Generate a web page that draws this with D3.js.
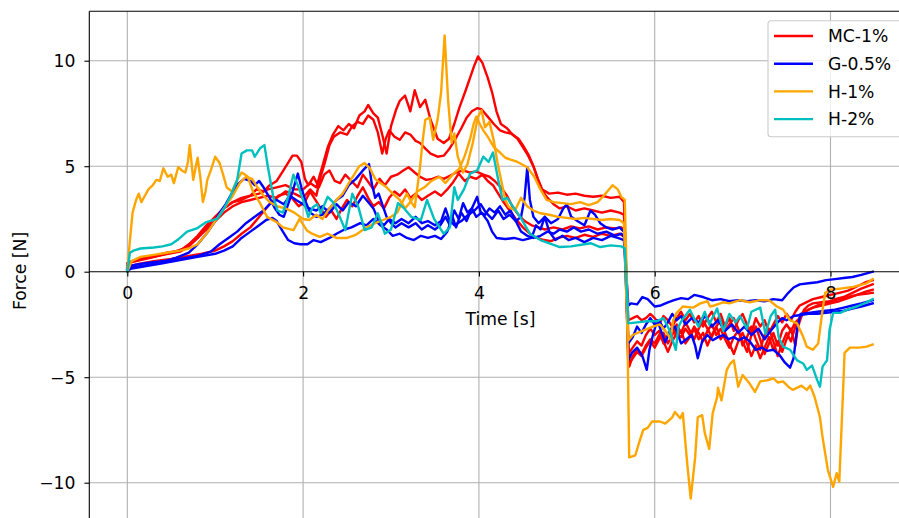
<!DOCTYPE html>
<html><head><meta charset="utf-8">
<script src="https://cdn.jsdelivr.net/npm/d3@7"></script>
<style>body{margin:0;background:#fff}svg{display:block;font-family:"DejaVu Sans",sans-serif}</style>
</head><body><svg id="c" width="899" height="518"></svg>
<script>
// ---------- DATA: [time (s), force (N)] ----------
const seriesNames = ["MC-1%", "G-0.5%", "H-1%", "H-2%"];
const seriesColors = ["#ff0000", "#0000ff", "#ffa500", "#00bfbf"];
const xTicks = [0, 2, 4, 6, 8];
const yTicks = [10, 5, 0, -5, -10];

const mc1_a = [[0,0.3],[0.05,0.5],[0.15,0.6],[0.3,0.75],[0.45,0.9],[0.6,1.0],[0.7,1.3],[0.8,1.7],[0.9,2.2],[1.0,2.6],[1.1,3.0],[1.2,3.3],[1.3,3.4],[1.4,3.6],[1.5,3.7],[1.6,3.9],[1.7,4.0],[1.8,4.1],[1.9,3.9],[2.0,3.9],[2.08,4.2],[2.15,4.0],[2.22,5.0],[2.28,5.9],[2.34,6.5],[2.4,6.9],[2.46,6.7],[2.52,7.0],[2.58,6.8],[2.64,7.4],[2.7,7.6],[2.74,7.9],[2.8,7.5],[2.85,7.3],[2.9,6.5],[2.95,5.6],[3.0,6.9],[3.06,7.7],[3.1,8.1],[3.16,8.35],[3.22,7.6],[3.27,8.6],[3.33,7.8],[3.39,8.15],[3.45,7.2],[3.53,6.3],[3.6,6.1],[3.66,6.3],[3.72,7.0],[3.78,7.8],[3.85,8.6],[3.9,9.2],[3.95,9.8],[3.99,10.2],[4.04,9.9],[4.1,9.2],[4.15,8.5],[4.2,7.6],[4.25,7.0],[4.32,6.8],[4.38,6.5],[4.45,6.3],[4.5,6.0],[4.57,5.5],[4.62,5.0],[4.67,4.4],[4.72,3.9],[4.8,3.7],[4.9,3.75],[5.0,3.65],[5.1,3.7],[5.2,3.6],[5.3,3.55],[5.4,3.6],[5.5,3.5],[5.6,3.55],[5.65,3.3],
[5.71,-4.5],[5.75,-4.0],[5.8,-3.7],[5.85,-3.9],[5.9,-3.5],[5.95,-3.2],[6.0,-3.4],[6.05,-3.0],[6.1,-3.3],[6.15,-3.8],[6.2,-3.3],[6.25,-2.9],[6.3,-3.1],[6.35,-2.7],[6.4,-3.0],[6.45,-2.6],[6.5,-2.9],[6.55,-3.3],[6.6,-2.8],[6.65,-2.5],[6.7,-3.0],[6.75,-2.7],[6.8,-3.2],[6.85,-3.6],[6.9,-3.1],[6.95,-2.8],[7.0,-3.3],[7.05,-3.8],[7.1,-3.0],[7.15,-2.6],[7.2,-3.2],[7.25,-3.9],[7.3,-3.4],[7.35,-2.9],[7.4,-3.5],[7.45,-2.8],[7.5,-2.5],[7.55,-2.8],[7.6,-2.4],[7.65,-2.2],[7.7,-1.8],[7.75,-1.6],[7.8,-1.5],[7.9,-1.45],[8.0,-1.4],[8.1,-1.3],[8.2,-1.2],[8.3,-1.1],[8.4,-1.05],[8.48,-1.0]];

const mc1_b = [[0,0.2],[0.05,0.45],[0.2,0.6],[0.4,0.8],[0.6,0.95],[0.7,1.2],[0.8,1.6],[0.9,2.0],[1.0,2.4],[1.1,2.8],[1.2,3.1],[1.3,3.3],[1.4,3.4],[1.5,3.5],[1.6,3.6],[1.7,3.5],[1.8,3.8],[1.9,3.7],[2.0,3.5],[2.08,3.9],[2.15,3.6],[2.2,4.5],[2.25,5.2],[2.3,6.0],[2.35,6.4],[2.42,6.6],[2.5,6.5],[2.56,6.9],[2.62,7.1],[2.68,7.0],[2.74,7.4],[2.8,7.2],[2.85,6.6],[2.9,5.6],[2.94,6.3],[2.98,6.7],[3.04,6.4],[3.1,6.25],[3.16,6.6],[3.22,6.5],[3.28,6.2],[3.33,6.1],[3.4,5.8],[3.45,5.6],[3.53,5.45],[3.6,5.5],[3.66,5.8],[3.72,6.2],[3.8,6.8],[3.86,7.3],[3.92,7.6],[3.98,7.75],[4.03,7.7],[4.1,7.35],[4.17,7.0],[4.24,6.7],[4.3,6.6],[4.37,6.55],[4.44,6.3],[4.5,5.9],[4.56,5.5],[4.62,5.0],[4.67,4.4],[4.72,3.85],[4.78,3.5],[4.85,3.2],[4.92,3.0],[5.0,3.1],[5.1,2.9],[5.2,3.0],[5.3,2.9],[5.4,2.8],[5.5,2.9],[5.6,2.8],[5.65,2.7],
[5.7,-2.3],[5.75,-2.2],[5.8,-2.1],[5.85,-2.3],[5.9,-2.2],[5.95,-2.0],[6.0,-2.2],[6.05,-2.5],[6.1,-2.1],[6.15,-2.3],[6.2,-2.6],[6.25,-2.2],[6.3,-1.9],[6.35,-2.3],[6.4,-2.0],[6.45,-2.4],[6.5,-2.1],[6.55,-2.6],[6.6,-2.2],[6.65,-1.9],[6.7,-2.4],[6.75,-2.0],[6.8,-2.6],[6.85,-2.2],[6.9,-2.8],[6.95,-2.3],[7.0,-2.0],[7.05,-2.5],[7.1,-2.9],[7.15,-2.2],[7.2,-2.6],[7.25,-2.3],[7.3,-2.9],[7.35,-2.5],[7.4,-2.1],[7.45,-2.4],[7.5,-2.0],[7.55,-2.3],[7.6,-1.9],[7.65,-1.6],[7.7,-1.5],[7.8,-1.3],[7.9,-1.2],[8.0,-1.1],[8.1,-1.0],[8.2,-0.9],[8.3,-0.7],[8.4,-0.5],[8.48,-0.4]];

const mc1_c = [[0,0.4],[0.1,0.55],[0.3,0.7],[0.5,0.9],[0.65,1.1],[0.8,1.6],[0.9,2.1],[1.0,2.6],[1.1,3.0],[1.2,3.3],[1.3,3.5],[1.4,3.6],[1.47,3.9],[1.55,3.8],[1.62,4.1],[1.7,4.3],[1.76,4.7],[1.82,5.1],[1.88,5.5],[1.93,5.5],[1.98,5.2],[2.02,4.4],[2.06,4.1],[2.12,4.5],[2.18,4.0],[2.24,4.6],[2.3,4.8],[2.36,4.3],[2.42,4.2],[2.48,4.6],[2.55,4.3],[2.62,4.0],[2.68,4.6],[2.75,4.2],[2.8,3.9],[2.87,4.4],[2.93,4.1],[3.0,4.5],[3.07,4.6],[3.14,4.8],[3.2,4.95],[3.27,4.7],[3.33,4.5],[3.4,4.35],[3.47,4.4],[3.54,4.5],[3.6,4.4],[3.67,4.55],[3.74,4.7],[3.82,4.8],[3.9,4.7],[3.97,4.75],[4.05,4.6],[4.12,4.5],[4.18,4.3],[4.25,4.0],[4.32,3.6],[4.38,3.1],[4.45,2.7],[4.52,2.4],[4.6,2.2],[4.68,2.1],[4.75,2.0],[4.85,2.1],[4.95,2.0],[5.05,2.15],[5.15,2.05],[5.25,2.15],[5.35,2.0],[5.45,2.1],[5.55,2.05],[5.62,2.1],[5.66,1.95],
[5.7,-3.9],[5.75,-3.6],[5.8,-3.3],[5.85,-3.5],[5.9,-3.0],[5.95,-2.7],[6.0,-3.0],[6.05,-2.8],[6.1,-3.4],[6.15,-3.0],[6.2,-2.6],[6.25,-3.1],[6.3,-2.8],[6.35,-3.4],[6.4,-3.1],[6.45,-2.7],[6.5,-3.2],[6.55,-2.9],[6.6,-3.5],[6.65,-3.0],[6.7,-2.6],[6.75,-3.2],[6.8,-2.9],[6.85,-3.4],[6.9,-3.9],[6.95,-3.3],[7.0,-2.9],[7.05,-3.4],[7.1,-4.0],[7.15,-3.5],[7.2,-4.1],[7.25,-3.6],[7.3,-3.1],[7.35,-3.7],[7.4,-3.3],[7.45,-3.8],[7.5,-3.2],[7.55,-2.7],[7.6,-3.5],[7.63,-2.6],[7.68,-2.0],[7.75,-1.8],[7.85,-1.6],[7.95,-1.5],[8.05,-1.3],[8.15,-1.2],[8.25,-1.0],[8.35,-0.8],[8.48,-0.6]];

const mc1_d = [[0,0.15],[0.1,0.35],[0.3,0.5],[0.5,0.6],[0.7,0.75],[0.85,0.85],[1.0,1.0],[1.1,1.2],[1.2,1.45],[1.3,1.8],[1.4,2.1],[1.48,2.5],[1.56,2.9],[1.64,3.3],[1.72,3.6],[1.8,3.7],[1.87,3.5],[1.95,3.1],[2.02,3.3],[2.08,3.8],[2.14,3.4],[2.2,3.0],[2.26,2.6],[2.32,2.9],[2.38,2.5],[2.44,3.0],[2.5,3.4],[2.56,3.1],[2.62,3.6],[2.68,4.0],[2.74,3.5],[2.8,3.1],[2.86,3.3],[2.92,3.0],[2.98,3.5],[3.04,3.8],[3.1,3.6],[3.16,3.9],[3.22,3.5],[3.28,3.7],[3.35,3.4],[3.42,3.6],[3.5,3.8],[3.57,3.6],[3.64,3.9],[3.7,4.2],[3.77,4.65],[3.84,4.3],[3.9,4.5],[3.97,4.4],[4.04,4.6],[4.1,4.3],[4.16,4.1],[4.22,3.7],[4.28,3.3],[4.35,2.9],[4.42,2.5],[4.5,2.1],[4.58,1.8],[4.66,1.6],[4.74,1.5],[4.82,1.45],[4.9,1.6],[5.0,1.7],[5.1,1.6],[5.2,1.75],[5.3,1.65],[5.4,1.8],[5.5,1.7],[5.6,1.8],[5.66,1.65],
[5.7,-4.4],[5.75,-4.1],[5.8,-3.8],[5.85,-4.0],[5.9,-3.6],[5.95,-3.3],[6.0,-3.6],[6.05,-3.2],[6.1,-2.9],[6.15,-3.4],[6.2,-3.0],[6.25,-2.5],[6.3,-2.9],[6.35,-2.4],[6.4,-2.8],[6.45,-3.2],[6.5,-2.7],[6.55,-2.3],[6.6,-2.7],[6.65,-3.1],[6.7,-2.6],[6.75,-2.3],[6.8,-2.8],[6.85,-2.5],[6.9,-2.2],[6.95,-2.7],[7.0,-3.5],[7.05,-3.1],[7.1,-2.6],[7.15,-3.2],[7.2,-3.7],[7.25,-3.0],[7.3,-2.7],[7.35,-3.3],[7.4,-4.0],[7.45,-3.4],[7.5,-2.9],[7.55,-3.3],[7.6,-2.6],[7.65,-2.2],[7.7,-1.9],[7.8,-1.7],[7.9,-1.6],[8.0,-1.5],[8.1,-1.4],[8.2,-1.25],[8.3,-1.1],[8.4,-0.95],[8.48,-0.85]];

const g05_a = [[0,0.1],[0.05,0.2],[0.2,0.3],[0.4,0.45],[0.55,0.65],[0.7,0.9],[0.8,1.3],[0.9,1.8],[1.0,2.4],[1.05,2.8],[1.12,3.2],[1.2,3.8],[1.27,4.2],[1.33,4.4],[1.4,4.3],[1.45,4.1],[1.5,4.3],[1.55,4.0],[1.62,3.5],[1.68,3.0],[1.73,2.7],[1.78,2.6],[1.83,3.2],[1.88,3.8],[1.94,4.65],[1.98,4.0],[2.03,3.3],[2.08,2.8],[2.15,2.6],[2.22,2.7],[2.3,3.0],[2.38,3.4],[2.45,3.6],[2.52,4.1],[2.6,4.4],[2.68,4.8],[2.75,5.1],[2.78,4.2],[2.82,3.5],[2.86,3.7],[2.9,3.2],[2.95,2.6],[3.0,2.3],[3.05,2.1],[3.12,2.3],[3.2,2.1],[3.28,2.3],[3.35,2.0],[3.42,2.2],[3.5,2.0],[3.56,2.2],[3.62,2.6],[3.67,2.2],[3.72,2.9],[3.77,2.5],[3.82,3.25],[3.87,2.8],[3.92,3.0],[3.98,3.55],[4.02,2.8],[4.07,2.7],[4.12,3.0],[4.18,2.8],[4.24,3.1],[4.3,2.7],[4.36,2.9],[4.42,2.4],[4.48,1.9],[4.55,1.7],[4.62,1.6],[4.7,1.7],[4.78,1.9],[4.85,1.8],[4.92,2.0],[5.0,1.9],[5.08,2.1],[5.16,1.9],[5.25,2.0],[5.35,1.8],[5.45,1.9],[5.55,1.7],[5.62,1.8],[5.66,1.6],
[5.7,-4.2],[5.74,-3.85],[5.8,-3.6],[5.86,-4.0],[5.91,-4.65],[5.94,-3.7],[5.98,-3.0],[6.03,-2.3],[6.08,-2.9],[6.12,-3.35],[6.18,-2.75],[6.23,-2.6],[6.3,-3.4],[6.36,-3.2],[6.42,-3.0],[6.46,-3.5],[6.49,-4.1],[6.54,-3.3],[6.6,-3.0],[6.66,-3.25],[6.72,-3.1],[6.78,-3.0],[6.84,-3.2],[6.9,-3.1],[6.96,-3.25],[7.02,-3.1],[7.08,-3.3],[7.15,-3.7],[7.22,-3.6],[7.28,-3.75],[7.35,-3.7],[7.42,-3.95],[7.48,-4.3],[7.54,-4.55],[7.58,-4.1],[7.62,-2.7],[7.66,-2.0],[7.75,-1.95],[7.85,-1.9],[7.95,-1.85],[8.05,-1.8],[8.15,-1.7],[8.25,-1.6],[8.35,-1.5],[8.48,-1.35]];

const g05_b = [[0,0.05],[0.05,0.15],[0.2,0.25],[0.4,0.4],[0.6,0.55],[0.8,0.7],[1.0,0.85],[1.1,1.0],[1.2,1.2],[1.3,1.6],[1.4,1.9],[1.5,2.2],[1.58,2.45],[1.65,2.55],[1.7,2.4],[1.77,1.9],[1.83,1.5],[1.9,1.35],[1.97,1.3],[2.05,1.3],[2.12,1.5],[2.2,1.4],[2.3,1.6],[2.38,1.8],[2.47,2.0],[2.55,2.1],[2.65,2.3],[2.72,2.2],[2.8,2.5],[2.88,2.2],[2.95,2.0],[3.02,1.7],[3.1,1.8],[3.18,1.6],[3.26,1.5],[3.34,1.7],[3.42,1.6],[3.5,1.7],[3.57,1.55],[3.64,1.9],[3.7,2.6],[3.74,2.1],[3.8,2.8],[3.86,2.4],[3.92,3.0],[3.97,2.6],[4.03,2.8],[4.1,2.4],[4.15,1.9],[4.2,1.6],[4.3,1.55],[4.4,1.6],[4.5,1.5],[4.6,1.6],[4.65,2.2],[4.7,2.0],[4.75,2.6],[4.8,1.9],[4.87,1.5],[4.95,1.7],[5.02,1.5],[5.1,1.6],[5.2,1.4],[5.3,1.6],[5.4,1.5],[5.5,1.7],[5.58,1.6],[5.65,1.5],
[5.7,-1.6],[5.73,-1.5],[5.8,-1.55],[5.86,-1.2],[5.92,-1.3],[6.0,-1.65],[6.07,-1.6],[6.15,-1.45],[6.22,-1.35],[6.3,-1.25],[6.38,-1.3],[6.45,-1.1],[6.55,-1.2],[6.65,-1.35],[6.75,-1.3],[6.85,-1.4],[6.95,-1.35],[7.05,-1.4],[7.15,-1.35],[7.25,-1.4],[7.35,-1.3],[7.45,-1.35],[7.52,-1.0],[7.58,-0.75],[7.65,-0.6],[7.75,-0.55],[7.85,-0.5],[7.95,-0.4],[8.05,-0.35],[8.15,-0.3],[8.25,-0.25],[8.35,-0.15],[8.48,0.0]];

const g05_c = [[0,0.1],[0.05,0.3],[0.2,0.4],[0.4,0.5],[0.6,0.6],[0.8,0.75],[0.95,0.95],[1.05,1.3],[1.15,1.6],[1.25,1.9],[1.35,2.3],[1.45,2.6],[1.55,2.9],[1.62,3.2],[1.7,3.4],[1.78,3.2],[1.85,3.6],[1.92,3.4],[2.0,3.2],[2.07,3.0],[2.15,2.9],[2.22,3.1],[2.3,2.8],[2.38,3.2],[2.45,2.9],[2.52,3.3],[2.6,3.1],[2.68,3.6],[2.74,3.3],[2.8,3.0],[2.86,2.4],[2.92,2.2],[2.98,2.5],[3.05,2.3],[3.12,2.5],[3.2,2.3],[3.28,2.6],[3.35,2.3],[3.42,2.4],[3.5,2.2],[3.57,2.4],[3.62,3.0],[3.66,2.5],[3.72,2.2],[3.8,2.4],[3.88,2.7],[3.95,2.9],[4.02,3.2],[4.08,2.8],[4.15,2.5],[4.22,2.9],[4.28,2.5],[4.35,2.7],[4.42,2.4],[4.48,2.6],[4.52,3.5],[4.55,4.95],[4.58,3.4],[4.62,2.6],[4.68,2.3],[4.75,2.6],[4.82,2.3],[4.9,2.5],[4.96,3.0],[5.0,3.2],[5.05,2.6],[5.12,2.4],[5.2,2.2],[5.27,2.9],[5.32,2.7],[5.38,2.3],[5.45,2.1],[5.52,2.0],[5.6,2.1],[5.65,1.9],
[5.7,-3.4],[5.75,-3.1],[5.8,-2.6],[5.85,-2.9],[5.9,-2.5],[5.95,-2.2],[6.0,-2.5],[6.05,-2.3],[6.1,-2.7],[6.15,-2.4],[6.2,-2.0],[6.25,-2.3],[6.3,-2.1],[6.35,-2.5],[6.42,-2.2],[6.5,-2.4],[6.58,-2.1],[6.65,-2.6],[6.72,-2.3],[6.8,-2.8],[6.88,-2.5],[6.95,-2.9],[7.02,-2.6],[7.1,-3.0],[7.18,-2.7],[7.25,-3.2],[7.32,-2.8],[7.4,-2.4],[7.45,-2.2],[7.5,-2.3],[7.58,-2.1],[7.66,-2.05],[7.75,-2.0],[7.85,-2.0],[7.95,-1.95],[8.05,-1.9],[8.15,-1.85],[8.25,-1.75],[8.35,-1.65],[8.48,-1.5]];

const h1_a = [[0,0],[0.03,1.5],[0.06,2.8],[0.1,3.4],[0.13,3.7],[0.16,3.3],[0.2,3.6],[0.24,3.9],[0.29,4.1],[0.33,4.35],[0.37,4.3],[0.41,4.9],[0.46,4.5],[0.5,4.6],[0.53,4.2],[0.58,4.96],[0.62,4.8],[0.66,4.7],[0.69,5.2],[0.71,6.0],[0.73,5.2],[0.75,4.35],[0.78,5.0],[0.8,5.4],[0.83,4.5],[0.86,3.3],[0.89,3.8],[0.91,4.35],[0.95,4.8],[1.0,5.45],[1.05,5.15],[1.09,4.6],[1.13,4.0],[1.19,3.8],[1.25,4.35],[1.3,4.7],[1.34,4.6],[1.37,4.5],[1.43,3.8],[1.51,3.25],[1.59,2.6],[1.7,2.35],[1.77,2.1],[1.89,1.97],[1.96,2.5],[2.04,1.97],[2.1,1.8],[2.19,1.65],[2.28,1.8],[2.38,1.6],[2.5,1.6],[2.6,1.75],[2.72,2.1],[2.82,2.3],[2.91,2.45],[3.0,2.6],[3.07,2.8],[3.13,3.3],[3.18,3.7],[3.23,3.3],[3.27,3.05],[3.3,4.0],[3.33,4.95],[3.36,6.2],[3.39,7.2],[3.44,7.3],[3.48,6.25],[3.53,7.2],[3.57,8.5],[3.61,11.2],[3.65,8.1],[3.69,6.1],[3.72,6.55],[3.76,5.45],[3.82,4.7],[3.87,5.1],[3.93,6.1],[3.99,7.35],[4.03,7.65],[4.07,6.85],[4.12,7.1],[4.17,6.2],[4.21,5.2],[4.26,4.2],[4.3,3.4],[4.34,3.07],[4.41,2.9],[4.48,3.5],[4.55,3.1],[4.62,2.9],[4.7,2.77],[4.8,2.7],[4.9,2.6],[5.0,2.55],[5.1,2.5],[5.2,2.55],[5.3,2.5],[5.4,2.45],[5.5,2.5],[5.6,2.45],[5.65,2.3],
[5.69,-3.0],[5.71,-8.8],[5.78,-8.7],[5.83,-8.0],[5.87,-7.5],[5.92,-7.4],[5.97,-7.1],[6.06,-7.1],[6.12,-7.2],[6.2,-6.9],[6.23,-6.65],[6.29,-6.95],[6.32,-6.7],[6.37,-9.1],[6.41,-10.75],[6.46,-8.8],[6.49,-6.9],[6.54,-6.8],[6.57,-7.65],[6.62,-8.4],[6.66,-6.7],[6.71,-5.95],[6.72,-5.5],[6.76,-6.1],[6.82,-4.65],[6.86,-4.35],[6.9,-4.2],[6.95,-5.45],[7.0,-4.9],[7.08,-5.3],[7.14,-5.7],[7.2,-5.2],[7.28,-5.15],[7.35,-5.05],[7.4,-5.25],[7.46,-5.2],[7.52,-5.45],[7.57,-5.6],[7.67,-5.4],[7.73,-5.6],[7.77,-5.4],[7.82,-5.95],[7.88,-6.9],[7.91,-7.85],[7.97,-9.4],[8.03,-10.2],[8.07,-9.55],[8.1,-9.95],[8.14,-5.95],[8.16,-3.85],[8.22,-3.6],[8.33,-3.6],[8.41,-3.55],[8.48,-3.45]];

const h1_b = [[0,0],[0.05,0.5],[0.15,0.7],[0.3,0.8],[0.45,0.9],[0.6,1.0],[0.7,1.1],[0.8,1.3],[0.9,1.8],[1.0,2.4],[1.1,3.0],[1.2,3.6],[1.28,4.2],[1.35,4.5],[1.42,4.4],[1.48,4.0],[1.55,3.6],[1.62,3.3],[1.7,3.1],[1.8,3.0],[1.9,2.8],[2.0,2.5],[2.07,2.45],[2.15,2.7],[2.22,2.5],[2.3,3.0],[2.38,3.4],[2.45,3.7],[2.52,4.2],[2.58,4.6],[2.64,5.0],[2.7,5.15],[2.76,4.9],[2.82,4.4],[2.88,4.2],[2.95,4.0],[3.02,3.7],[3.1,3.4],[3.16,3.0],[3.22,3.3],[3.3,3.8],[3.38,4.0],[3.46,4.3],[3.55,4.5],[3.62,4.2],[3.7,4.6],[3.78,4.9],[3.84,5.5],[3.9,6.3],[3.94,7.0],[3.97,7.35],[4.01,7.0],[4.05,6.7],[4.1,6.4],[4.17,5.9],[4.24,5.65],[4.3,5.4],[4.37,5.3],[4.44,5.2],[4.55,4.95],[4.63,4.5],[4.7,3.9],[4.77,3.4],[4.85,3.3],[4.95,3.25],[5.05,3.2],[5.15,3.3],[5.25,3.15],[5.35,3.3],[5.42,3.6],[5.48,3.9],[5.52,4.1],[5.58,3.9],[5.62,3.55],[5.66,3.4],
[5.7,-3.25],[5.75,-3.0],[5.86,-2.8],[5.98,-2.6],[6.06,-2.5],[6.14,-2.9],[6.18,-3.2],[6.21,-2.3],[6.25,-1.95],[6.32,-1.65],[6.44,-1.7],[6.52,-1.5],[6.6,-1.4],[6.63,-1.65],[6.68,-1.6],[6.78,-1.45],[6.85,-1.5],[6.97,-1.35],[7.08,-1.45],[7.2,-1.35],[7.3,-1.35],[7.39,-1.65],[7.46,-1.8],[7.54,-2.3],[7.62,-2.45],[7.69,-3.1],[7.73,-3.55],[7.8,-3.7],[7.86,-3.4],[7.91,-1.8],[7.94,-1.0],[8.0,-0.85],[8.11,-0.8],[8.26,-0.72],[8.41,-0.55],[8.48,-0.35]];

const h2_a = [[0,0],[0.03,0.9],[0.07,1.0],[0.15,1.1],[0.3,1.15],[0.4,1.2],[0.5,1.3],[0.57,1.5],[0.68,1.9],[0.79,2.05],[0.9,2.35],[1.02,2.5],[1.09,2.9],[1.17,3.55],[1.25,4.35],[1.3,5.6],[1.36,5.75],[1.42,5.75],[1.45,5.45],[1.51,5.85],[1.56,6.0],[1.6,4.95],[1.66,3.55],[1.71,2.9],[1.77,2.8],[1.83,3.55],[1.89,4.6],[1.94,4.1],[2.0,3.4],[2.06,2.6],[2.11,3.05],[2.16,3.2],[2.2,2.77],[2.28,3.55],[2.34,3.3],[2.4,2.77],[2.48,1.97],[2.56,3.7],[2.63,3.05],[2.7,1.97],[2.78,2.1],[2.85,2.77],[2.93,1.8],[3.0,2.0],[3.08,3.25],[3.15,3.0],[3.23,2.6],[3.34,2.45],[3.41,3.4],[3.49,2.5],[3.6,1.8],[3.67,2.1],[3.72,4.0],[3.76,3.4],[3.83,3.9],[3.9,4.65],[3.98,4.8],[4.05,5.45],[4.11,5.2],[4.16,5.65],[4.22,4.35],[4.27,3.4],[4.32,3.5],[4.39,3.07],[4.47,2.6],[4.58,1.8],[4.7,1.5],[4.92,1.17],[5.05,1.2],[5.2,1.3],[5.27,1.35],[5.38,1.17],[5.5,1.25],[5.62,1.2],[5.66,1.1],
[5.7,-2.45],[5.8,-2.4],[5.91,-2.35],[6.02,-2.35],[6.1,-2.2],[6.16,-2.7],[6.2,-3.2],[6.24,-3.7],[6.27,-2.6],[6.31,-2.3],[6.4,-1.8],[6.46,-2.3],[6.5,-2.6],[6.57,-1.9],[6.62,-2.5],[6.71,-1.75],[6.78,-2.8],[6.85,-2.0],[6.92,-2.4],[6.97,-2.1],[7.05,-2.7],[7.1,-1.9],[7.2,-1.7],[7.26,-2.95],[7.32,-2.1],[7.37,-1.8],[7.41,-3.1],[7.46,-3.55],[7.54,-3.7],[7.62,-4.2],[7.69,-4.35],[7.73,-4.65],[7.79,-4.45],[7.85,-5.15],[7.88,-5.45],[7.91,-4.5],[7.96,-4.2],[7.99,-2.75],[8.03,-1.95],[8.11,-1.95],[8.19,-1.8],[8.3,-1.65],[8.41,-1.45],[8.48,-1.3]];

const groups = [[mc1_a, mc1_b, mc1_c, mc1_d], [g05_a, g05_b, g05_c], [h1_a, h1_b], [h2_a]];

// ---------- LAYOUT ----------
const svg = d3.select("#c");
const FS = 17.2;
const LW = 2.4;
const L = 89.3, T = 11.3, R = 912, B = 520;
const x = d3.scaleLinear().domain([0, 8]).range([127.3, 830.5]);
const y = d3.scaleLinear().domain([10, -10]).range([60.7, 482.7]);
const fmt = d => (d < 0 ? "\u2212" + Math.abs(d) : "" + d);

svg.append("defs").append("clipPath").attr("id", "clip")
  .append("rect").attr("x", L).attr("y", T).attr("width", R - L).attr("height", B - T);

// grid
const grid = svg.append("g").attr("stroke", "#b0b0b0").attr("stroke-width", 1.1);
grid.selectAll("line.v").data(xTicks).join("line").attr("class", "v")
  .attr("x1", d => x(d)).attr("x2", d => x(d)).attr("y1", T).attr("y2", B);
grid.selectAll("line.h").data(yTicks.filter(d => d !== 0)).join("line").attr("class", "h")
  .attr("x1", L).attr("x2", R).attr("y1", d => y(d)).attr("y2", d => y(d));

// lines
const line = d3.line().x(d => x(d[0])).y(d => y(d[1]));
const plot = svg.append("g").attr("clip-path", "url(#clip)");
groups.forEach((grp, gi) => {
  grp.forEach(data => {
    plot.append("path").datum(data).attr("d", line)
      .attr("fill", "none").attr("stroke", seriesColors[gi])
      .attr("stroke-width", LW).attr("stroke-linejoin", "round").attr("stroke-linecap", "square");
  });
});

// axes
const yAxis = d3.axisLeft(y).tickValues(yTicks).tickFormat(fmt).tickSize(4.9).tickPadding(9);
const gy = svg.append("g").attr("transform", `translate(${L},0)`).call(yAxis);
gy.select(".domain").remove();
gy.selectAll(".tick line").attr("stroke", "#000").attr("stroke-width", 1.1);
gy.selectAll(".tick text").attr("font-size", FS).attr("font-family", "DejaVu Sans").attr("fill", "#000").attr("dy", "0.36em");

const xAxis = d3.axisBottom(x).tickValues(xTicks).tickFormat(fmt).tickSize(4.9);
const gx = svg.append("g").attr("transform", `translate(0,${y(0)})`).call(xAxis);
gx.select(".domain").remove();
gx.selectAll(".tick line").attr("stroke", "#000").attr("stroke-width", 1.1);
gx.selectAll(".tick text").attr("font-size", FS).attr("font-family", "DejaVu Sans").attr("fill", "#000").attr("y", 27.8).attr("dy", 0);

// spines
const sp = svg.append("g").attr("stroke", "#000").attr("stroke-width", 1.1);
sp.append("line").attr("x1", L).attr("x2", L).attr("y1", T).attr("y2", B);
sp.append("line").attr("x1", L).attr("x2", R).attr("y1", T).attr("y2", T);
sp.append("line").attr("x1", L).attr("x2", R).attr("y1", y(0)).attr("y2", y(0));

// axis labels
svg.append("text").attr("x", 500.5).attr("y", 325).attr("text-anchor", "middle")
  .attr("font-size", FS).text("Time [s]");
svg.append("text").attr("transform", "translate(25.5,271) rotate(-90)").attr("text-anchor", "middle")
  .attr("font-size", FS).text("Force [N]");

// legend
const lg = svg.append("g");
lg.append("rect").attr("x", 768).attr("y", 20.7).attr("width", 136).attr("height", 116).attr("rx", 3)
  .attr("fill", "#fff").attr("fill-opacity", 0.8).attr("stroke", "#cccccc").attr("stroke-width", 1.1);
seriesNames.forEach((n, i) => {
  const yy = 36 + i * 27.7;
  lg.append("line").attr("x1", 774).attr("x2", 813).attr("y1", yy).attr("y2", yy)
    .attr("stroke", seriesColors[i]).attr("stroke-width", LW);
  lg.append("text").attr("x", 828).attr("y", yy).attr("dy", "0.36em").attr("font-size", FS).text(n);
});
</script></body></html>
